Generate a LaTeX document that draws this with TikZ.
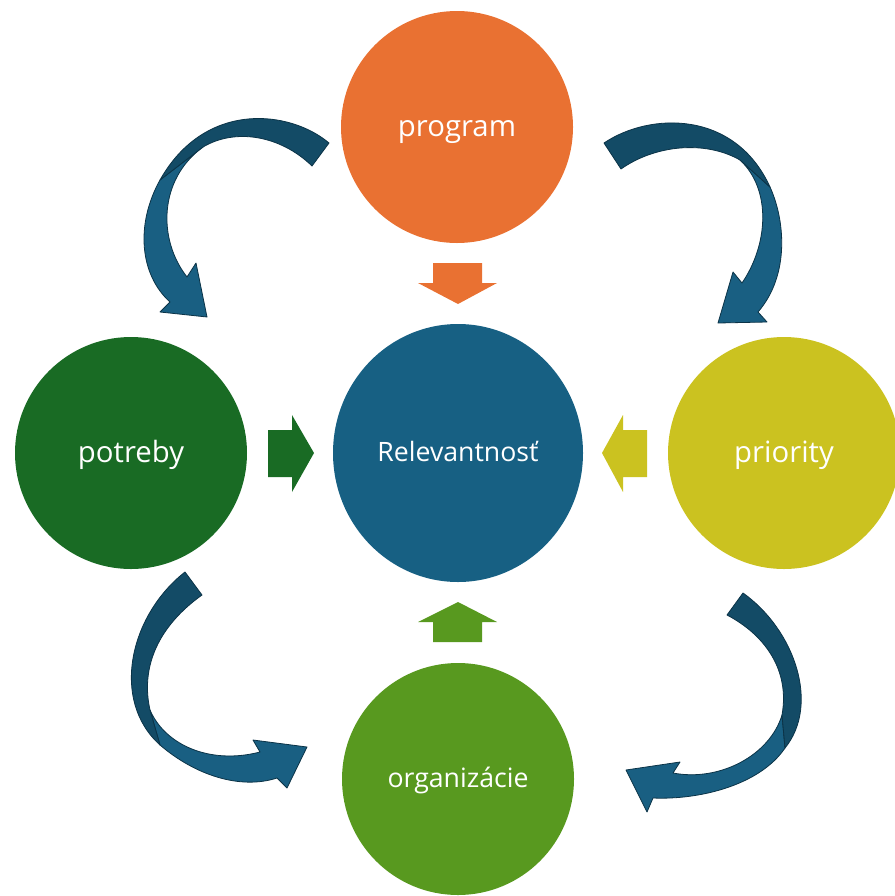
\documentclass[tikz,border=0pt]{standalone}
\usepackage{fontspec}
\setmainfont{Open Sans}
\usetikzlibrary{shapes.geometric}
\definecolor{corange}{HTML}{E97132}
\definecolor{cblue}{HTML}{176083}
\definecolor{cdgreen}{HTML}{196B24}
\definecolor{cyellow}{HTML}{CBC220}
\definecolor{cgreen}{HTML}{58991F}
\definecolor{arrdark}{HTML}{134B66}
\definecolor{arrlight}{HTML}{195F82}
\definecolor{arrline}{HTML}{0B3347}
\begin{document}
\begin{tikzpicture}[x=0.75pt,y=-0.75pt,
  bubble/.style={circle, minimum size=174pt, inner sep=0pt, text=white,
    font=\fontsize{22}{26}\selectfont, text height=16pt, text depth=2pt},
  bubblesmall/.style={bubble, font=\fontsize{20}{24}\selectfont, text height=14pt, text depth=2pt},
  darkpart/.style={fill=arrdark, draw=arrline, line width=0.6pt, line join=round},
  lightpart/.style={fill=arrlight, draw=arrline, line width=0.6pt, line join=round}]
\useasboundingbox (0,0) rectangle (895,896);

% circles
\node[bubble, fill=corange] (program) at (457,127) {program};
\node[bubble, fill=cdgreen] (potreby) at (131,453) {potreby};
\node[bubble, fill=cyellow] (priority) at (784,453) {priority};
\node[bubblesmall, fill=cgreen] (organizacie) at (458,779) {organizácie};
\node[ellipse, minimum width=187.5pt, minimum height=193.5pt, inner sep=0pt, fill=cblue, text=white,
      font=\fontsize{20}{24}\selectfont, text height=14pt, text depth=2pt] (rel) at (458,453) {Relevantnosť};

% block arrows
\fill[corange] (433,263) -- (482,263) -- (482,283) -- (497,283) -- (458,304) -- (418,283) -- (433,283) -- cycle;
\fill[cdgreen] (268,430) -- (292,430) -- (292,415) -- (314,453) -- (292,492) -- (292,477) -- (268,477) -- cycle;
\fill[cyellow] (647,430) -- (623,430) -- (623,415) -- (602,453) -- (623,492) -- (623,477) -- (647,477) -- cycle;
\fill[cgreen] (433,642) -- (482,642) -- (482,622) -- (497,622) -- (458,602) -- (418,622) -- (433,622) -- cycle;

% top-left curved arrow
\path[lightpart] (160,180) .. controls (135,225) and (140,275) .. (170,302)
  -- (160,312) -- (207,317) -- (196,263) -- (187,277)
  .. controls (158,240) and (158,180) .. (203,147) -- cycle;
\path[darkpart] (329,143) .. controls (290,110) and (205,100) .. (160,180)
  -- (203,147) .. controls (235,128) and (280,135) .. (312,166) -- cycle;

% top-right curved arrow
\path[lightpart] (770,187) .. controls (785,220) and (790,275) .. (758,312)
  -- (767,322) -- (718,323) -- (733,272) -- (742,283)
  .. controls (768,245) and (772,190) .. (740,160) -- cycle;
\path[darkpart] (604,143) .. controls (650,112) and (735,110) .. (770,187)
  -- (740,160) .. controls (705,140) and (655,145) .. (621,169) -- cycle;

% bottom-left curved arrow
\path[lightpart] (160,745) .. controls (195,775) and (240,790) .. (277,778)
  -- (287,788) -- (307,747) -- (253,740) -- (260,752)
  .. controls (210,765) and (165,745) .. (150,710) -- cycle;
\path[darkpart] (185,572) .. controls (130,615) and (110,700) .. (160,745)
  -- (150,710) .. controls (140,665) and (160,625) .. (202,595) -- cycle;

% bottom-right curved arrow
\path[lightpart] (785,748) .. controls (760,785) and (700,800) .. (653,798)
  -- (647,812) -- (626,770) -- (680,762) -- (673,773)
  .. controls (720,782) and (770,755) .. (782,715) -- cycle;
\path[darkpart] (743,593) .. controls (795,630) and (820,705) .. (785,748)
  -- (782,715) .. controls (790,670) and (765,635) .. (727,615) -- cycle;
\end{tikzpicture}
\end{document}
